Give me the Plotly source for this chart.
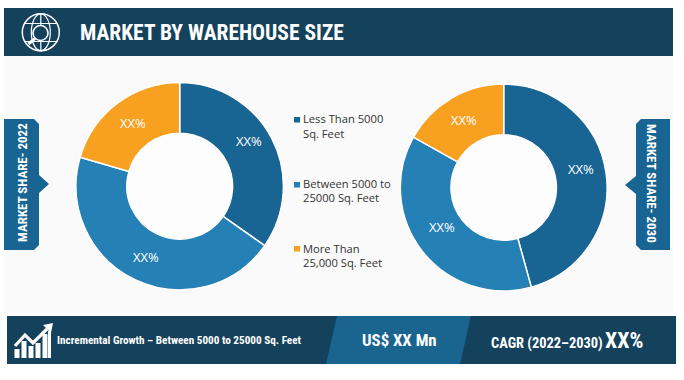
import plotly.graph_objects as go

W, H = 684, 380
TITLE = "MARKET BY WAREHOUSE SIZE"
CATEGORIES = ["Less Than 5000 Sq. Feet", "Between 5000 to 25000 Sq. Feet", "More Than 25,000 Sq. Feet"]
LEGEND_LINES = [["Less Than 5000", "Sq. Feet"], ["Between 5000 to", "25000 Sq. Feet"], ["More Than", "25,000 Sq. Feet"]]
SHARE_2022 = [34.7, 44.8, 20.5]
SHARE_2030 = [45.7, 37.4, 16.9]
SLICE_LABEL = "XX%"
COLORS = ["#186492", "#2581b5", "#f8a01f"]
NAVY = "#14425c"
NARROW = "Roboto Condensed, Roboto"
BODY = "Open Sans"


def X(px): return px / W
def Y(py): return 1 - py / H


def poly(pts, fill, closed=True, line=None, lw=0):
    d = "M " + " L ".join(f"{X(x):.5f},{Y(y):.5f}" for x, y in pts) + (" Z" if closed else "")
    return dict(type="path", xref="paper", yref="paper", path=d,
                fillcolor=fill if closed else "rgba(0,0,0,0)",
                line=dict(color=line or "rgba(0,0,0,0)", width=lw), layer="below")


def rect(x0, y0, x1, y1, fill):
    return poly([(x0, y0), (x1, y0), (x1, y1), (x0, y1)], fill)


def ellipse(cx, cy, rx, ry, fill="rgba(0,0,0,0)", line=None, lw=0, layer="below"):
    return dict(type="circle", xref="paper", yref="paper", x0=X(cx - rx), x1=X(cx + rx),
                y0=Y(cy + ry), y1=Y(cy - ry), fillcolor=fill,
                line=dict(color=line or "rgba(0,0,0,0)", width=lw), layer=layer)


def text(px, py, s, size, color="white", font=NARROW, bold=False, anchor="left", rot=0):
    return dict(xref="paper", yref="paper", x=X(px), y=Y(py), text=f"<b>{s}</b>" if bold else s,
                showarrow=False, xanchor=anchor, yanchor="middle", textangle=rot, borderpad=0,
                font=dict(size=size, color=color, family=font), align=anchor)


def dom(cx, cy, r):
    return dict(x=[X(cx - r), X(cx + r)], y=[Y(cy + r), Y(cy - r)])


shapes = [
    rect(4, 56, 673, 314, "#fafafa"),
    rect(4, 8, 673, 56, NAVY),
    rect(7, 316, 676, 364, NAVY),
    poly([(337, 316), (471, 316), (460, 364), (326, 364)], "#1a6490"),
    poly([(4, 119), (34, 119), (39, 124), (39, 175), (49, 184), (39, 193), (39, 245), (34, 250), (4, 250)], "#186492"),
    poly([(670, 119), (641, 119), (636, 124), (636, 176), (625, 185), (636, 194), (636, 245), (641, 250), (670, 250)], "#186492"),
    ellipse(179.7, 186.2, 54, 54, "#fdfdfd"),
    ellipse(503.7, 187.5, 54, 54, "#fdfdfd"),
    # globe icon
    ellipse(40.8, 32.3, 18.5, 18.5, line="white", lw=1.5),
    ellipse(40.8, 32.3, 9.5, 18.5, line="white", lw=1.2),
    poly([(40.8, 14), (40.8, 51)], "", False, "white", 1.2),
    poly([(24, 23.5), (57.5, 23.5)], "", False, "white", 1.2),
    poly([(24, 41.5), (57.5, 41.5)], "", False, "white", 1.2),
    ellipse(40.5, 33, 7.5, 7.5, NAVY, "white", 1.6),
    poly([(35, 38.5), (28.5, 44)], "", False, "white", 3),
    # growth icon
    rect(14.5, 349, 19.5, 358, "white"),
    rect(21.5, 341, 26.5, 358, "white"),
    rect(28.5, 346, 33.5, 358, "white"),
    rect(35.5, 343, 40.5, 358, "white"),
    rect(42.5, 334, 47.5, 358, "white"),
    rect(48, 331, 51, 358, "white"),
    poly([(15, 346), (25, 335), (33, 343), (49, 327)], "", False, "white", 3.2),
    poly([(43, 325), (53, 323), (51, 333)], "white"),
]
for color, y in zip(COLORS, [117, 182, 246]):
    shapes.append(rect(294, y, 300, y + 5.5, color))

annotations = [
    text(79, 32.5, TITLE, 21.5, bold=True),
    text(22, 183, "MARKET SHARE- 2022", 13, anchor="center", rot=-90, bold=True),
    text(652, 183, "MARKET SHARE- 2030", 13, anchor="center", rot=90, bold=True),
    text(56, 340, "Incremental Growth – Between 5000 to 25000 Sq. Feet", 11.2, bold=True),
    text(399, 340, "US$ XX Mn", 16.8, bold=True, anchor="center"),
    text(490, 343, "CAGR (2022–2030)", 14.4, bold=True),
    text(604, 340, "XX%", 21.8, bold=True),
]
for lines, y in zip(LEGEND_LINES, [119, 183.5, 248]):
    annotations.append(text(302, y, lines[0], 11.2, "#333333", BODY))
    annotations.append(text(302, y + 14, lines[1], 11.2, "#333333", BODY))
for px, py in [(249, 141), (146, 257), (132.7, 123), (581, 169), (442, 227), (464, 120)]:
    annotations.append(text(px, py, SLICE_LABEL, 13, "white", BODY, anchor="center"))

fig = go.Figure()
for vals, cx, cy, r, name in [(SHARE_2022, 179.7, 186.2, 103.7, "2022"), (SHARE_2030, 503.7, 187.5, 103.4, "2030")]:
    fig.add_trace(go.Pie(labels=CATEGORIES, values=vals, name=name, hole=0.51, sort=False,
                         direction="clockwise", rotation=0, textinfo="none",
                         marker=dict(colors=COLORS, line=dict(color="white", width=1.5)),
                         domain=dom(cx, cy, r)))
fig.update_layout(width=W, height=H, margin=dict(l=0, r=0, t=0, b=0), paper_bgcolor="white",
                  showlegend=False, shapes=shapes, annotations=annotations)
fig.write_html("out.html", config=dict(displayModeBar=False), post_script="document.body.style.margin='0';")
